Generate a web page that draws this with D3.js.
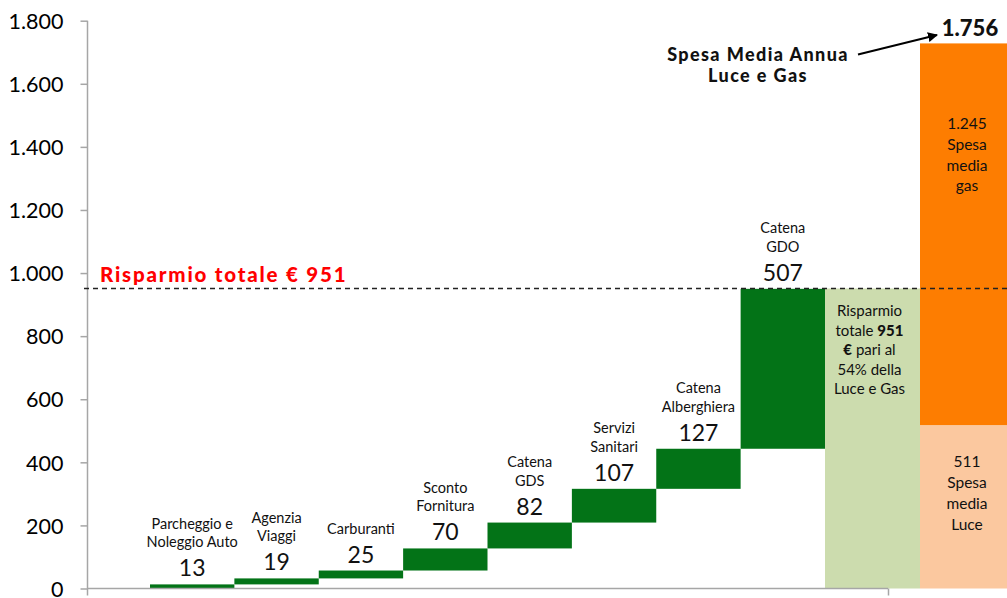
<!DOCTYPE html>
<html>
<head>
<meta charset="utf-8">
<script src="https://cdn.jsdelivr.net/npm/d3@7"></script>
<style>
  html, body { margin: 0; padding: 0; background: #fff; }
  svg { display: block; font-family: Lato, "Open Sans", sans-serif; }
</style>
</head>
<body>
<svg id="chart" width="1007" height="598"></svg>
<script>
// ---------- DATA ----------
const categoryLines = [
  ["Parcheggio e", "Noleggio Auto"],
  ["Agenzia", "Viaggi"],
  ["Carburanti"],
  ["Sconto", "Fornitura"],
  ["Catena", "GDS"],
  ["Servizi", "Sanitari"],
  ["Catena", "Alberghiera"],
  ["Catena", "GDO"]
];
const savings = [13, 19, 25, 70, 82, 107, 127, 507];
const totalSaving = 951;
const summaryKeys = ["risparmio", "spesa"];
const spesaLuce = 518;     // bar height
const spesaGas = 1210;     // bar height
const yTickValues = [0, 200, 400, 600, 800, 1000, 1200, 1400, 1600, 1800];
const yTickLabels = ["0", "200", "400", "600", "800", "1.000", "1.200", "1.400", "1.600", "1.800"];
const totalLabel = "1.756";
const gasLines = ["1.245", "Spesa", "media", "gas"];
const luceLines = ["511", "Spesa", "media", "Luce"];
const savingTextLines = [
  [["Risparmio", false]],
  [["totale ", false], ["951", true]],
  [["€", true], [" pari al", false]],
  [["54% della", false]],
  [["Luce e Gas", false]]
];

// ---------- SETUP ----------
const svg = d3.select("#chart");
const green = "#037317", lightGreen = "#ccdcae", orange = "#fd7d01", lightOrange = "#fbc89f";
const axisGrey = "#a6a6a6";

const y = d3.scaleLinear().domain([0, 1800]).range([588.5, 20.7]);
const x = d3.scaleBand().domain(d3.range(savings.length)).range([150, 825]).padding(0);
const x2 = d3.scaleBand().domain(summaryKeys).range([825, 1015]).padding(0);
const xAxisScale = d3.scaleLinear().domain([0, 1]).range([87.5, 888]);

const cum = Array.from(d3.cumsum(savings));
const starts = cum.map((c, i) => c - savings[i]);

// ---------- BARS ----------
svg.append("g").selectAll("rect").data(savings).join("rect")
  .attr("x", (d, i) => x(i))
  .attr("width", x.bandwidth())
  .attr("y", (d, i) => y(cum[i]))
  .attr("height", (d, i) => y(starts[i]) - y(cum[i]))
  .attr("fill", green);

// summary bars
svg.append("rect")
  .attr("x", x2("risparmio")).attr("width", x2.bandwidth())
  .attr("y", y(totalSaving)).attr("height", y(0) - y(totalSaving))
  .attr("fill", lightGreen);
svg.append("rect")
  .attr("x", x2("spesa")).attr("width", x2.bandwidth())
  .attr("y", y(spesaLuce)).attr("height", y(0) - y(spesaLuce))
  .attr("fill", lightOrange);
svg.append("rect")
  .attr("x", x2("spesa")).attr("width", x2.bandwidth())
  .attr("y", y(spesaLuce + spesaGas)).attr("height", y(spesaLuce) - y(spesaLuce + spesaGas))
  .attr("fill", orange);

// ---------- AXES ----------
const yAxis = svg.append("g")
  .attr("transform", `translate(${xAxisScale.range()[0]},0)`)
  .call(d3.axisLeft(y).tickValues(yTickValues).tickSize(7).tickPadding(17)
    .tickFormat((d, i) => yTickLabels[i]));
yAxis.select(".domain").attr("d", `M0,${y(1800)}V${y(0) + 7}`);
yAxis.selectAll("line").attr("stroke", axisGrey).attr("stroke-width", 1.5);
yAxis.select(".domain").attr("stroke", axisGrey).attr("stroke-width", 1.5);
yAxis.selectAll("text").attr("font-size", 21.5).attr("fill", "#000")
  .attr("font-family", "Lato, sans-serif").attr("dy", "0.36em");

const xAxis = svg.append("g")
  .attr("transform", `translate(0,${y(0)})`)
  .call(d3.axisBottom(xAxisScale).tickValues([1]).tickSize(7).tickFormat(""));
xAxis.select(".domain").attr("d", `M${xAxisScale(0)},0H${xAxisScale(1)}`)
  .attr("stroke", axisGrey).attr("stroke-width", 1.5);
xAxis.selectAll("line").attr("stroke", axisGrey).attr("stroke-width", 1.5);

// ---------- DASHED TOTAL LINE ----------
svg.append("line")
  .attr("x1", 84).attr("x2", 1007)
  .attr("y1", y(totalSaving)).attr("y2", y(totalSaving))
  .attr("stroke", "#222").attr("stroke-width", 1.3).attr("stroke-dasharray", "5,4");

svg.append("text")
  .attr("x", 100).attr("y", y(totalSaving) - 7)
  .attr("fill", "#ff0000").attr("font-weight", 900).attr("font-size", 20.5)
  .attr("letter-spacing", 1.8)
  .text("Risparmio totale € 951");

// ---------- BAR LABELS ----------
const lab = svg.append("g").attr("text-anchor", "middle").attr("fill", "#111");
savings.forEach((v, i) => {
  const cx = x(i) + x.bandwidth() / 2;
  const vb = y(cum[i]) - 8;
  lab.append("text").attr("x", cx).attr("y", vb)
    .attr("font-size", 23).text(v);
  const lines = categoryLines[i];
  lines.forEach((t, j) => {
    lab.append("text").attr("x", cx)
      .attr("y", vb - 29 - (lines.length - 1 - j) * 18.5)
      .attr("font-size", 14.5).text(t);
  });
});

// light green text
const gx = x2("risparmio") + x2.bandwidth() / 2 - 3;
savingTextLines.forEach((segs, j) => {
  const t = svg.append("text").attr("x", gx).attr("y", y(totalSaving) + 27.5 + j * 19.6)
    .attr("text-anchor", "middle").attr("font-size", 15).attr("fill", "#111");
  segs.forEach(([s, b]) => t.append("tspan").attr("font-weight", b ? 900 : 400).text(s));
});

// orange texts
const ox = x2("spesa") + 47;
gasLines.forEach((t, j) => {
  svg.append("text").attr("x", ox).attr("y", y(spesaLuce + spesaGas) + 86 + j * 20.6)
    .attr("text-anchor", "middle").attr("font-size", 15.5).attr("fill", "#111").text(t);
});
luceLines.forEach((t, j) => {
  svg.append("text").attr("x", ox).attr("y", y(spesaLuce) + 42 + j * 21)
    .attr("text-anchor", "middle").attr("font-size", 15.5).attr("fill", "#111").text(t);
});

// ---------- ANNOTATION ----------
svg.append("defs").append("marker")
  .attr("id", "arr").attr("viewBox", "0 0 10 10").attr("refX", 9).attr("refY", 5)
  .attr("markerWidth", 5).attr("markerHeight", 5).attr("orient", "auto")
  .append("path").attr("d", "M0,0L10,5L0,10z").attr("fill", "#000");
svg.append("line")
  .attr("x1", 858).attr("y1", 54.5).attr("x2", 937).attr("y2", 35)
  .attr("stroke", "#000").attr("stroke-width", 2).attr("marker-end", "url(#arr)");

svg.append("text").attr("x", 970).attr("y", 36)
  .attr("text-anchor", "middle").attr("font-weight", 900).attr("font-size", 22)
  .attr("fill", "#111").text(totalLabel);

const ann = svg.append("text").attr("text-anchor", "middle").attr("font-weight", 900)
  .attr("font-size", 18).attr("letter-spacing", 1.4).attr("fill", "#111");
ann.append("tspan").attr("x", 758).attr("y", 60.7).text("Spesa Media Annua");
ann.append("tspan").attr("x", 758).attr("y", 81.7).text("Luce e Gas");
</script>
</body>
</html>
